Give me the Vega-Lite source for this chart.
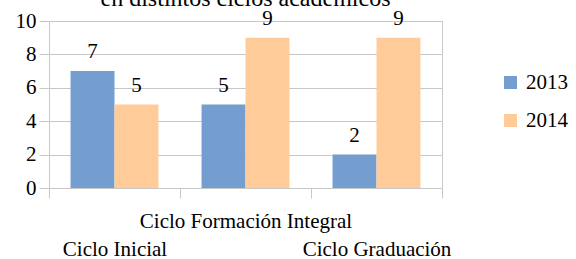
{
  "$schema": "https://vega.github.io/schema/vega-lite/v6.json",
  "autosize": {"type": "none"},
  "width": 393,
  "height": 167,
  "padding": {"left": 49, "top": 21, "right": 134, "bottom": 71},
  "title": {
    "text": "en distintos ciclos académicos",
    "font": "Liberation Serif",
    "fontSize": 24,
    "fontWeight": "normal",
    "color": "black",
    "baseline": "alphabetic",
    "offset": 0,
    "dy": 22,
    "anchor": "middle",
    "frame": "group"
  },
  "data": {
    "values": [
      {"ciclo": "Ciclo Inicial", "year": "2013", "value": 7},
      {"ciclo": "Ciclo Inicial", "year": "2014", "value": 5},
      {"ciclo": "Ciclo Formación Integral", "year": "2013", "value": 5},
      {"ciclo": "Ciclo Formación Integral", "year": "2014", "value": 9},
      {"ciclo": "Ciclo Graduación", "year": "2013", "value": 2},
      {"ciclo": "Ciclo Graduación", "year": "2014", "value": 9}
    ]
  },
  "encoding": {
    "x": {
      "field": "ciclo",
      "type": "nominal",
      "sort": null,
      "title": null,
      "scale": {"paddingInner": 0, "paddingOuter": 0},
      "axis": {
        "tickBand": "extent",
        "tickSize": 10,
        "tickColor": "#c8c8c8",
        "domainColor": "#c8c8c8",
        "labelAngle": 0,
        "labelFont": "Liberation Serif",
        "labelFontSize": 21,
        "labelColor": "black",
        "labelBaseline": "top",
        "labelPadding": 12,
        "labelLineHeight": 28,
        "labelOverlap": false,
        "labelLimit": 0,
        "labelExpr": "datum.value == 'Ciclo Formación Integral' ? datum.value : ['', datum.value]"
      }
    },
    "xOffset": {
      "field": "year",
      "type": "nominal",
      "scale": {"paddingInner": 0, "paddingOuter": 0.49}
    },
    "y": {
      "field": "value",
      "type": "quantitative",
      "title": null,
      "scale": {"domain": [0, 10]},
      "axis": {
        "values": [0, 2, 4, 6, 8, 10],
        "grid": true,
        "gridColor": "#c8c8c8",
        "tickColor": "#c8c8c8",
        "tickSize": 10,
        "domainColor": "#c8c8c8",
        "labelFont": "Liberation Serif",
        "labelFontSize": 21,
        "labelColor": "black",
        "labelPadding": 3
      }
    }
  },
  "layer": [
    {
      "mark": {"type": "bar"},
      "encoding": {
        "color": {
          "field": "year",
          "type": "nominal",
          "scale": {"domain": ["2013", "2014"], "range": ["#739ecf", "#ffcc99"]},
          "legend": {
            "title": null,
            "orient": "none",
            "legendX": 451,
            "legendY": 51,
            "padding": 0,
            "symbolType": "square",
            "symbolSize": 169,
            "symbolStrokeWidth": 0,
            "labelFont": "Liberation Serif",
            "labelFontSize": 21,
            "labelColor": "black",
            "labelOffset": 5,
            "labelLimit": 0,
            "rowPadding": 16
          }
        }
      }
    },
    {
      "mark": {
        "type": "text",
        "baseline": "alphabetic",
        "dy": -13,
        "font": "Liberation Serif",
        "fontSize": 21,
        "color": "black"
      },
      "encoding": {"text": {"field": "value", "type": "quantitative"}}
    }
  ],
  "config": {
    "view": {"stroke": "#c8c8c8"},
    "background": "white"
  }
}
